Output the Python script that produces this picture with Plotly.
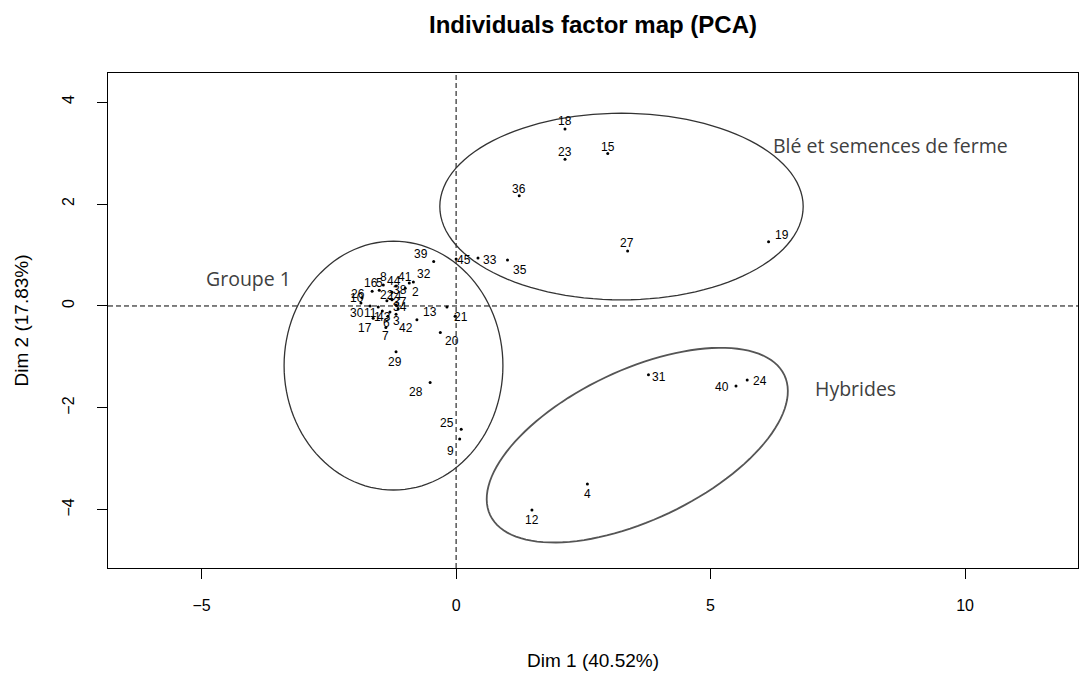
import numpy as np
import plotly.graph_objects as go

# ---- data (individual coordinates on Dim 1 / Dim 2) ----
ids = [str(i) for i in range(1, 46)]
dim1 = [-1.45, -1.00, -1.18, 2.58, -1.51, -1.34, -1.38, -1.43, 0.07, -1.87,
        -1.53, 1.49, -0.18, -1.26, 2.98, -1.65, -1.63, 2.14, 6.14, -0.31,
        -0.02, -1.36, 2.14, 5.72, 0.10, -1.85, 3.37, -0.51, -1.18, -1.69,
        3.78, -0.84, 0.43, -1.14, 1.01, 1.24, -1.18, -1.26, -0.44, 5.50,
        -0.92, -0.77, -1.30, -1.18, 0.00]
dim2 = [-0.10, 0.35, -0.16, -3.49, 0.31, -0.20, -0.42, 0.41, -2.61, 0.06,
        -0.02, -4.00, -0.02, 0.12, 2.99, 0.29, -0.24, 3.47, 1.26, -0.52,
        -0.20, 0.10, 2.88, -1.45, -2.42, 0.16, 1.08, -1.50, -0.90, 0.00,
        -1.35, 0.47, 0.94, -0.06, 0.90, 2.16, 0.02, 0.27, 0.87, -1.57,
        0.45, -0.27, -0.12, 0.39, 0.92]

x_ticks = [-5, 0, 5, 10]
y_ticks = [-4, -2, 0, 2, 4]

group_names = ["Groupe 1", "Blé et semences de ferme", "Hybrides"]
group_label_x = [-4.07, 8.53, 7.84]
group_label_y = [0.53, 3.14, -1.61]

# ---- styles: label offsets in pixels (dx, dy up) ----
label_offsets = {
    "1": (-5, -6), "2": (10, -4), "3": (0, -7), "4": (0, -10), "5": (0, 7),
    "6": (-1, -7), "7": (0, -9), "8": (0, 8), "9": (-9, -12), "10": (-4, 5),
    "11": (-8, -6), "12": (0, -10), "13": (-17, -5), "14": (3, 4), "15": (0, 7),
    "16": (-1, 8), "17": (-8, -10), "18": (0, 8), "19": (13, 7), "20": (12, -9),
    "21": (6, -1), "22": (0, 6), "23": (0, 7), "24": (13, -1), "25": (-14, 6),
    "26": (-4, 4), "27": (-1, 8), "28": (-14, -10), "29": (-1, -10), "30": (-13, -7),
    "31": (11, -2), "32": (11, 8), "33": (12, -2), "34": (2, 2), "35": (12, -10),
    "36": (0, 7), "37": (4, 3), "38": (8, 2), "39": (-13, 8), "40": (-14, -1),
    "41": (-4, 6), "42": (-11, -8), "43": (-6, -5), "44": (-2, 5), "45": (8, -1),
}

# hand-drawn group ellipses (centre, semi-axes, rotation in degrees)
ellipses = [
    dict(cx=-1.23, cy=-1.17, rx=2.15, ry=2.44, ang=0.0, color="#333333", width=1.3),
    dict(cx=3.25, cy=1.95, rx=3.57, ry=1.83, ang=0.0, color="#333333", width=1.3),
    dict(cx=3.56, cy=-2.73, rx=3.20, ry=1.47, ang=25.4, color="#555555", width=1.8),
]

fig = go.Figure()

fig.add_trace(go.Scatter(
    x=dim1, y=dim2, mode="markers",
    marker=dict(size=3, color="black"),
    hovertext=ids, hoverinfo="text+x+y", showlegend=False,
))

annotations = []
for name, x, y in zip(ids, dim1, dim2):
    dx, dy = label_offsets[name]
    annotations.append(dict(
        x=x, y=y, xref="x", yref="y", text=name, showarrow=False,
        xshift=dx, yshift=dy,
        font=dict(family="Liberation Sans, Arial", size=12, color="black"),
    ))

for name, x, y in zip(group_names, group_label_x, group_label_y):
    annotations.append(dict(
        x=x, y=y, xref="x", yref="y", text=name, showarrow=False,
        font=dict(family="Open Sans, Noto Sans", size=19.5, color="#404040"),
    ))

# axis titles
annotations.append(dict(
    x=0.5, y=-0.186, xref="paper", yref="paper", text="Dim 1 (40.52%)",
    showarrow=False, xanchor="center", yanchor="middle",
    font=dict(family="Liberation Sans, Arial", size=19, color="black"),
))
annotations.append(dict(
    x=-0.0887, y=0.5, xref="paper", yref="paper", text="Dim 2 (17.83%)",
    showarrow=False, xanchor="center", yanchor="middle", textangle=-90,
    font=dict(family="Liberation Sans, Arial", size=19, color="black"),
))

shapes = [
    dict(type="line", xref="x", yref="paper", x0=0, x1=0, y0=0, y1=1,
         line=dict(color="black", width=1, dash="5px,3px")),
    dict(type="line", xref="paper", yref="y", x0=0, x1=1, y0=0, y1=0,
         line=dict(color="black", width=1, dash="5px,3px")),
]

t = np.linspace(0, 2 * np.pi, 121)
for e in ellipses:
    a = np.deg2rad(e["ang"])
    ex = e["cx"] + e["rx"] * np.cos(t) * np.cos(a) - e["ry"] * np.sin(t) * np.sin(a)
    ey = e["cy"] + e["rx"] * np.cos(t) * np.sin(a) + e["ry"] * np.sin(t) * np.cos(a)
    path = "M " + " L ".join(f"{px:.4f},{py:.4f}" for px, py in zip(ex, ey)) + " Z"
    shapes.append(dict(type="path", xref="x", yref="y", path=path,
                       line=dict(color=e["color"], width=e["width"])))

axis_common = dict(
    showgrid=False, zeroline=False, showline=True, mirror=True,
    linecolor="black", linewidth=1, ticks="outside", ticklen=10,
    tickcolor="black", tickwidth=1,
    tickfont=dict(family="Liberation Sans, Arial", size=16, color="black"),
)

fig.update_layout(
    width=1083, height=682,
    margin=dict(l=108, r=5, t=73, b=114),
    paper_bgcolor="white", plot_bgcolor="white",
    title=dict(text="<b>Individuals factor map (PCA)</b>", x=0.5, xref="paper",
               xanchor="center", y=1 - 25 / 682, yanchor="middle",
               font=dict(family="Liberation Sans, Arial", size=24, color="black")),
    xaxis=dict(range=[-6.84, 12.22], tickvals=x_ticks, ticklabelstandoff=13, **axis_common),
    yaxis=dict(range=[-5.14, 4.57], tickvals=y_ticks, tickangle=-90, ticklabelstandoff=17,
               **axis_common),
    annotations=annotations,
    shapes=shapes,
    showlegend=False,
)

fig.write_html("out.html", config={"displayModeBar": False},
               post_script="document.body.style.margin='0';document.body.style.overflow='hidden';")
